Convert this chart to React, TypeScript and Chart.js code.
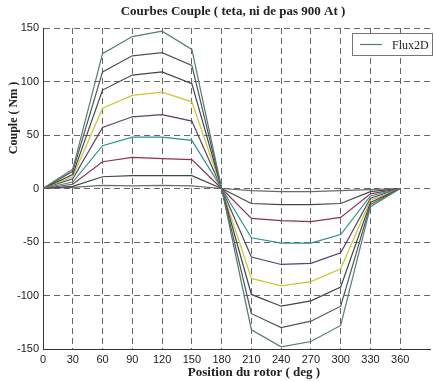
import React, { useEffect, useRef } from "react";
import { Chart, registerables } from "chart.js";

Chart.register(...registerables);

const positions = [0, 30, 60, 90, 120, 150, 180, 210, 240, 270, 300, 330, 360];
const yTicks = [-150, -100, -50, 0, 50, 100, 150];

const s1 = [0, 18, 126, 142, 147, 130, 0, -132, -148, -143, -128, -17, 0];
const s2 = [0, 16, 109, 124, 127, 115, 0, -117, -130, -124, -110, -15, 0];
const s3 = [0, 13, 92, 106, 109, 98, 0, -99, -110, -105, -92, -13, 0];
const s4 = [0, 11, 75, 87, 90, 81, 0, -84, -91, -87, -75, -11, 0];
const s5 = [0, 9, 57, 67, 69, 63, 0, -64, -71, -70, -60, -9, 0];
const s6 = [0, 6, 40, 48, 48, 45, 0, -46, -51, -51, -43, -7, 0];
const s7 = [0, 4, 25, 29, 28, 27, 0, -28, -30, -31, -27, -5, 0];
const s8 = [0, 2, 11, 12, 12, 12, 0, -14, -15, -15, -14, -3, 0];
const s9 = [0, 1, 3, 2.5, 3, 2.5, 0, -2, -3, -3, -2, -1, 0];

const series = [s1, s2, s3, s4, s5, s6, s7, s8, s9];
const colors = [
  "#5a7878",
  "#4a5656",
  "#3e4450",
  "#c8c832",
  "#5a4068",
  "#2a9098",
  "#8a3450",
  "#3a4848",
  "#6a6a6a",
];

const titleText = "Courbes Couple ( teta, ni de pas 900 At )";
const xLabel = "Position du rotor ( deg )";
const yLabel = "Couple ( Nm )";
const legendLabel = "Flux2D";

const textPlugin = {
  id: "textPlugin",
  afterDraw(chart: any) {
    const ctx = chart.ctx;
    ctx.save();
    ctx.fillStyle = "#222";
    ctx.font = "bold 13px 'Liberation Serif', serif";
    ctx.textAlign = "center";
    ctx.textBaseline = "middle";
    ctx.fillText(titleText, 233, 12);
    ctx.font = "bold 13px 'Liberation Serif', serif";
    ctx.fillText(xLabel, 254, 373);
    ctx.translate(14, 118);
    ctx.rotate(-Math.PI / 2);
    ctx.font = "bold 12px 'Liberation Serif', serif";
    ctx.fillText(yLabel, 0, 0);
    ctx.restore();

    // legend
    ctx.save();
    const bx = 352.5, by = 33.5, bw = 80, bh = 22;
    ctx.fillStyle = "#fff";
    ctx.fillRect(bx, by, bw, bh);
    ctx.strokeStyle = "#777";
    ctx.lineWidth = 1;
    ctx.strokeRect(bx, by, bw, bh);
    ctx.strokeStyle = "#5a7878";
    ctx.lineWidth = 1.2;
    ctx.beginPath();
    ctx.moveTo(360, by + bh / 2);
    ctx.lineTo(382, by + bh / 2);
    ctx.stroke();
    ctx.fillStyle = "#222";
    ctx.font = "12px 'Liberation Serif', serif";
    ctx.textAlign = "left";
    ctx.textBaseline = "middle";
    ctx.fillText(legendLabel, 392, by + bh / 2 + 1);
    ctx.restore();
  },
};

export default function App() {
  const ref = useRef<HTMLCanvasElement | null>(null);
  useEffect(() => {
    if (!ref.current) return;
    const chart = new Chart(ref.current, {
      type: "line",
      data: {
        labels: positions,
        datasets: series.map((s, i) => ({
          label: i === 0 ? legendLabel : "s" + (i + 1),
          data: s.map((v, j) => ({ x: positions[j], y: v })),
          borderColor: colors[i],
          borderWidth: 1.2,
          pointRadius: 0,
          tension: 0,
          fill: false,
        })),
      },
      options: {
        animation: false,
        responsive: false,
        maintainAspectRatio: false,
        layout: { padding: { top: 28, right: 3, left: 0, bottom: 0 } },
        plugins: {
          legend: { display: false },
          title: { display: false },
          tooltip: { enabled: false },
        },
        scales: {
          x: {
            type: "linear",
            min: 0,
            max: 390,
            afterFit: (s: any) => {
              s.height = 32;
            },
            afterBuildTicks: (s: any) => {
              s.ticks = [0, 30, 60, 90, 120, 150, 180, 210, 240, 270, 300, 330, 360, 390].map((v) => ({ value: v }));
            },
            ticks: {
              callback: (v: any) => (v <= 360 ? String(v) : ""),
              color: "#222",
              font: { family: "'Liberation Sans', Arial, sans-serif", size: 11 },
              padding: 4,
              maxRotation: 0,
              autoSkip: false,
            },
            grid: {
              color: (c: any) => (c.tick && c.tick.value === 390 ? "rgba(0,0,0,0)" : "#666"),
              lineWidth: 1,
              drawTicks: false,
            },
            border: { display: true, color: "#333", dash: [6, 4], width: 1 },
          },
          y: {
            min: -150,
            max: 150,
            afterFit: (s: any) => {
              s.width = 43;
            },
            afterBuildTicks: (s: any) => {
              s.ticks = yTicks.map((v) => ({ value: v }));
            },
            ticks: {
              color: "#222",
              font: { family: "'Liberation Sans', Arial, sans-serif", size: 11 },
              padding: 4,
            },
            grid: {
              color: "#666",
              lineWidth: 1,
              drawTicks: false,
            },
            border: { display: true, color: "#333", dash: [6, 4], width: 1 },
          },
        },
      },
      plugins: [textPlugin],
    });
    return () => chart.destroy();
  }, []);
  return (
    <div style={{ position: "fixed", left: 0, top: 0, width: 434, height: 381, background: "#fff" }}>
      <canvas ref={ref} width={434} height={381} style={{ width: 434, height: 381, display: "block" }} />
    </div>
  );
}
